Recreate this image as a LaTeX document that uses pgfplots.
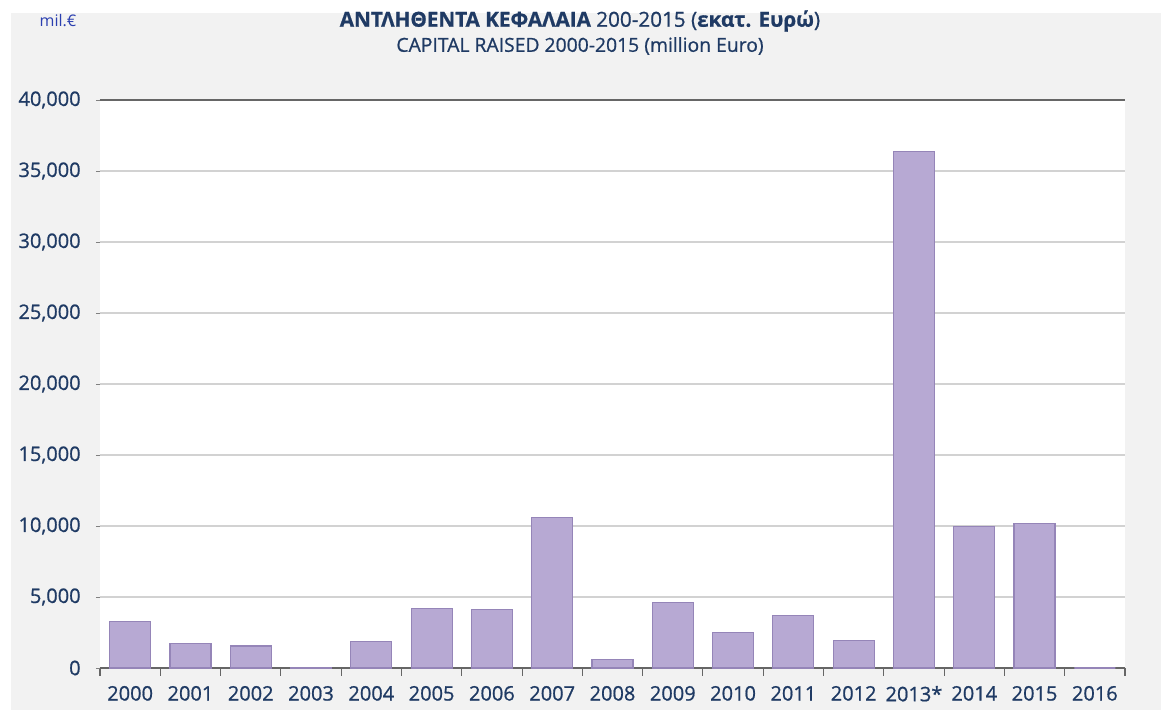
\documentclass[border=0pt]{standalone}
\usepackage{fontspec}
\setmainfont{Open Sans}
\newfontfamily\semib[FakeBold=0.8]{Open Sans}
\usepackage{pgfplots}
\pgfplotsset{compat=1.18}
\definecolor{bgray}{HTML}{F2F2F2}
\definecolor{navy}{HTML}{1F3A64}
\definecolor{barfill}{HTML}{B7A9D3}
\definecolor{baredge}{HTML}{9585B8}
\definecolor{milblue}{HTML}{2B3FB0}
\begin{document}
\begin{tikzpicture}[x=0.75pt,y=0.75pt]
\fill[white] (0,0) rectangle (1161,720);
\fill[bgray] (11,10) rectangle (1161,707);
\begin{axis}[
  at={(100*0.75pt,52*0.75pt)}, anchor=south west,
  width=1025*0.75pt, height=568*0.75pt, scale only axis,
  axis background/.style={fill=white},
  xmin=-0.5, xmax=16.5, ymin=0, ymax=40000,
  axis x line*=bottom, axis y line*=left,
  x axis line style={draw=gray!80!black, line width=1.2pt},
  y axis line style={draw=none},
  xtick={0,...,16},
  xticklabels={2000,2001,2002,2003,2004,2005,2006,2007,2008,2009,2010,2011,2012,2013*,2014,2015,2016},
  major x tick style={draw=none},
  minor xtick={-0.5,0.5,...,16.5},
  minor x tick style={draw=gray!80!black, line width=0.8pt},
  minor tick length=6pt,
  tick align=outside,
  ytick={0,5000,...,40000},
  major y tick style={draw=gray, line width=0.6pt},
  major tick length=3pt,
  ymajorgrids, grid style={draw=gray!35, line width=0.9pt},
  scaled y ticks=false,
  /pgf/number format/assume math mode=true,
  yticklabel={\pgfmathprintnumber[fixed,1000 sep={,}]{\tick}},
  ticklabel style={font=\semib\fontsize{15}{18}\selectfont, text=navy},
  xticklabel style={yshift=-7pt},
  yticklabel style={xshift=-8pt},
  ybar, bar width=0.68,
  clip=false,
]
\addplot[fill=barfill, draw=baredge, line width=0.9pt] coordinates {
(0,3260) (1,1740) (2,1550) (3,30) (4,1880) (5,4210) (6,4100) (7,10600)
(8,600) (9,4620) (10,2480) (11,3690) (12,1950) (13,36350) (14,9950) (15,10150) (16,0)};
\draw[gray!80!black, line width=1.2pt] (axis cs:-0.5,40000) -- (axis cs:16.5,40000);
\end{axis}
\node[text=navy, font=\semib\fontsize{15.5}{18}\selectfont] at (580,720-21) {\textbf{ΑΝΤΛΗΘΕΝΤΑ ΚΕΦΑΛΑΙΑ} 200-2015 (\textbf{εκατ. Ευρώ})};
\node[text=navy, font=\semib\fontsize{14.5}{17}\selectfont] at (580,720-46) {CAPITAL RAISED 2000-2015 (million Euro)};
\node[text=milblue, font=\fontsize{12}{14}\selectfont] at (58,720-21) {mil.€};
\end{tikzpicture}
\end{document}
